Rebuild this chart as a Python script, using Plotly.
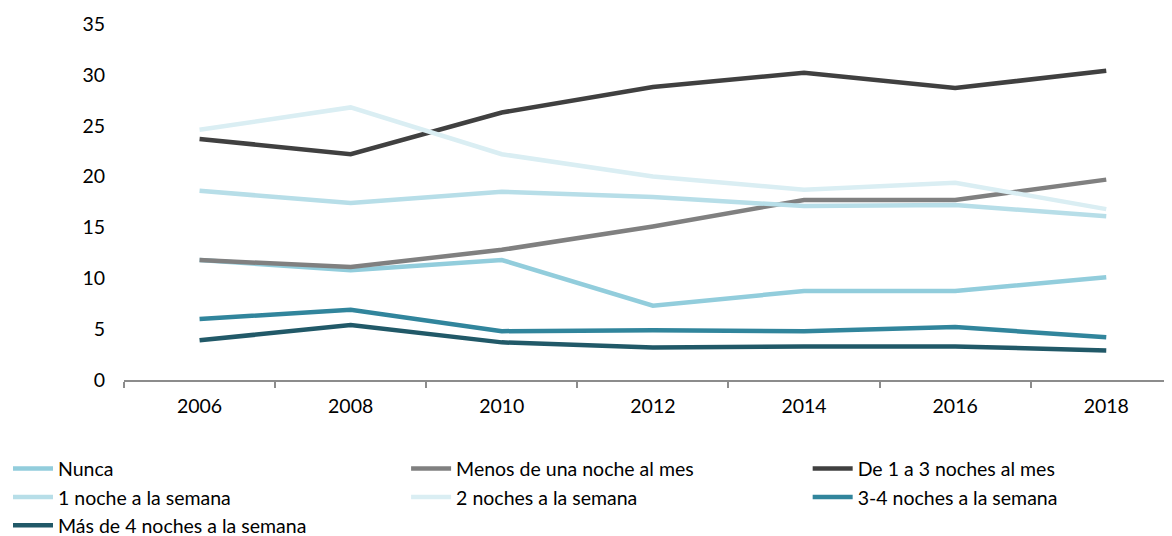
import plotly.graph_objects as go

years = [2006, 2008, 2010, 2012, 2014, 2016, 2018]

series_names = [
    "Nunca",
    "Menos de una noche al mes",
    "De 1 a 3 noches al mes",
    "1 noche a la semana",
    "2 noches a la semana",
    "3-4 noches a la semana",
    "Más de 4 noches a la semana",
]

nunca = [11.8, 10.8, 11.8, 7.3, 8.75, 8.75, 10.1]
menos_una = [11.8, 11.1, 12.8, 15.1, 17.7, 17.7, 19.7]
de_1_a_3 = [23.7, 22.2, 26.3, 28.8, 30.2, 28.7, 30.4]
una_noche = [18.6, 17.4, 18.5, 18.0, 17.1, 17.2, 16.1]
dos_noches = [24.6, 26.8, 22.2, 20.0, 18.7, 19.4, 16.8]
tres_cuatro = [6.0, 6.9, 4.8, 4.9, 4.8, 5.2, 4.2]
mas_de_4 = [3.9, 5.4, 3.7, 3.2, 3.3, 3.3, 2.9]

colors = ["#92CDDC", "#808080", "#404040", "#B7DEE8", "#DAEEF3", "#31859C", "#215968"]

all_values = [nunca, menos_una, de_1_a_3, una_noche, dos_noches, tres_cuatro, mas_de_4]

# legend column of each series (3 columns, filled row by row)
legend_ids = ["legend", "legend2", "legend3", "legend", "legend2", "legend3", "legend"]

FONT = "Lato, 'Open Sans', sans-serif"
FS = 19.5

fig = go.Figure()
for name, vals, col, lg in zip(series_names, all_values, colors, legend_ids):
    fig.add_trace(go.Scatter(
        x=years, y=vals, name=name, mode="lines",
        line=dict(color=col, width=4.5), legend=lg,
    ))

def leg(xpos):
    return dict(
        orientation="v", xref="container", yref="container",
        x=xpos, y=0.164, xanchor="left", yanchor="top",
        font=dict(size=FS, family=FONT), itemwidth=40,
        bgcolor="rgba(0,0,0,0)",
    )

fig.update_layout(
    width=1164, height=528,
    margin=dict(l=116, r=0, t=16, b=156, autoexpand=False),
    paper_bgcolor="white", plot_bgcolor="white",
    font=dict(family=FONT, size=FS, color="#000000"),
    xaxis=dict(
        range=[2005, 2018.87],
        tickmode="array", tickvals=years, ticktext=[str(y) for y in years],
        ticks="", showgrid=False, zeroline=False,
        showline=True, linecolor="#8c8c8c", linewidth=1.5,
        minor=dict(ticks="outside", tick0=2005, dtick=2, ticklen=6,
                   tickcolor="#8c8c8c", tickwidth=1.5, showgrid=False),
        tickfont=dict(size=FS),
        ticklabelstandoff=8,
    ),
    yaxis=dict(
        range=[0, 35], tickmode="array", tickvals=[0, 5, 10, 15, 20, 25, 30, 35],
        showgrid=False, zeroline=False, showline=False, ticks="",
        tickfont=dict(size=FS),
        ticklabelstandoff=18,
    ),
    legend=leg(0.0),
    legend2=leg(0.342),
    legend3=leg(0.687),
    showlegend=True,
)

fig.write_html("out.html")
